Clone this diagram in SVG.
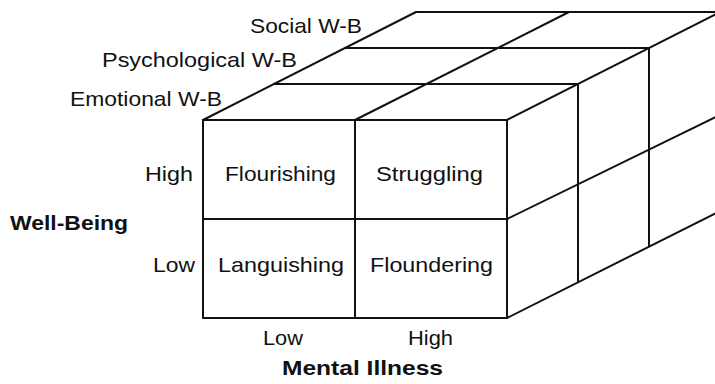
<svg xmlns="http://www.w3.org/2000/svg" width="715" height="384" viewBox="0 0 715 384">
<style>
  .ln { stroke: #111; stroke-width: 2; fill: none; stroke-linecap: round; stroke-linejoin: round; }
  .t { font-family: "Liberation Sans", Arial, sans-serif; font-size: 21px; fill: #111; }
  .b { font-family: "Liberation Sans", Arial, sans-serif; font-size: 21px; font-weight: bold; fill: #111; }
</style>
<rect width="715" height="384" fill="#fff"/>
<g id="connectors">
  <!-- front face -->
  <path class="ln" d="M203,120 H507 V318 H203 Z"/>
  <path class="ln" d="M355,120 V318 M203,219 H507"/>
  <!-- top face layer lines -->
  <path class="ln" d="M274,84 H578 M345,48 H649 M416,12 H720"/>
  <!-- top depth edges -->
  <path class="ln" d="M203,120 L416,12 M355,120 L569,12 M507,120 L720,12"/>
  <!-- right face -->
  <path class="ln" d="M578,84 V282 M649,48 V246"/>
  <path class="ln" d="M507,219 L720,115 M507,318 L720,211"/>
</g>
<g id="layer-social"><text class="t" x="250" y="33" textLength="112" lengthAdjust="spacingAndGlyphs">Social W-B</text></g>
<g id="layer-psychological"><text class="t" x="102" y="67" textLength="195" lengthAdjust="spacingAndGlyphs">Psychological W-B</text></g>
<g id="layer-emotional"><text class="t" x="70" y="106" textLength="152" lengthAdjust="spacingAndGlyphs">Emotional W-B</text></g>
<g id="wb-high"><text class="t" x="145" y="181" textLength="48" lengthAdjust="spacingAndGlyphs">High</text></g>
<g id="wb-low"><text class="t" x="153" y="272" textLength="42" lengthAdjust="spacingAndGlyphs">Low</text></g>
<g id="axis-wellbeing"><text class="b" x="10" y="230" textLength="118" lengthAdjust="spacingAndGlyphs">Well-Being</text></g>
<g id="cell-flourishing"><text class="t" x="225" y="181" textLength="111" lengthAdjust="spacingAndGlyphs">Flourishing</text></g>
<g id="cell-struggling"><text class="t" x="376" y="181" textLength="107" lengthAdjust="spacingAndGlyphs">Struggling</text></g>
<g id="cell-languishing"><text class="t" x="218" y="272" textLength="126" lengthAdjust="spacingAndGlyphs">Languishing</text></g>
<g id="cell-floundering"><text class="t" x="370" y="272" textLength="123" lengthAdjust="spacingAndGlyphs">Floundering</text></g>
<g id="mi-low"><text class="t" x="263" y="345" textLength="40" lengthAdjust="spacingAndGlyphs">Low</text></g>
<g id="mi-high"><text class="t" x="408" y="345" textLength="45" lengthAdjust="spacingAndGlyphs">High</text></g>
<g id="axis-mental"><text class="b" x="282" y="375" textLength="161" lengthAdjust="spacingAndGlyphs">Mental Illness</text></g>
</svg>
